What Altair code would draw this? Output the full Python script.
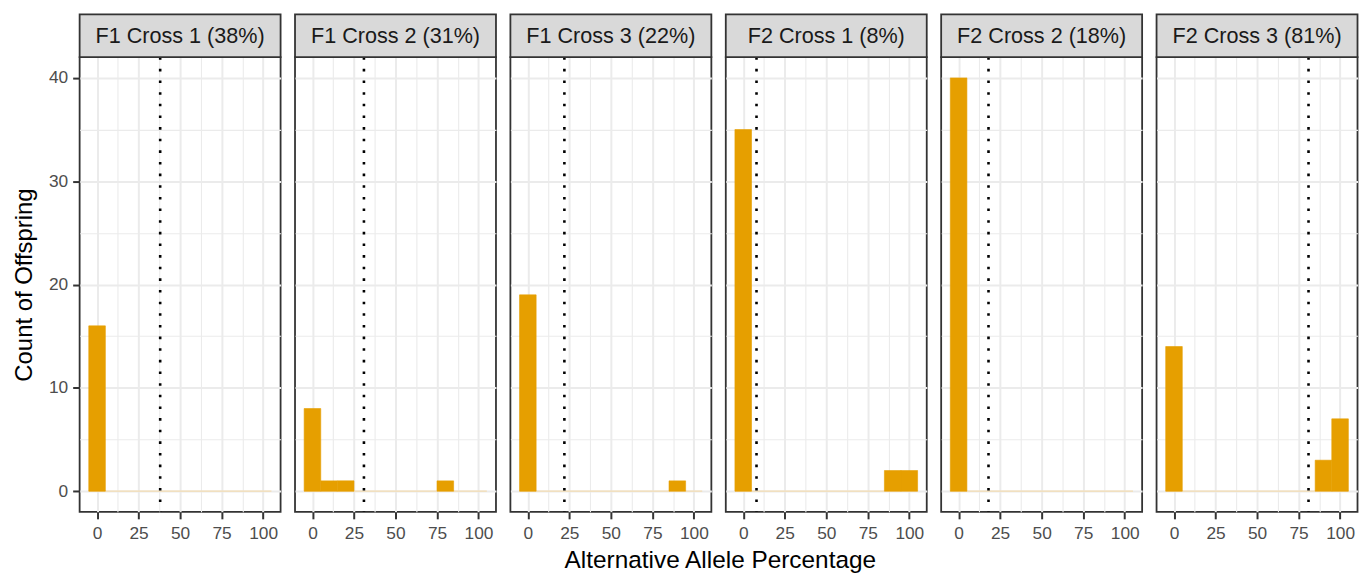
import altair as alt
import pandas as pd

# ---- data ----
panel_labels = ["F1 Cross 1 (38%)", "F1 Cross 2 (31%)", "F1 Cross 3 (22%)",
                "F2 Cross 1 (8%)", "F2 Cross 2 (18%)", "F2 Cross 3 (81%)"]
parent_pct = [38, 31, 22, 8, 18, 81]
bin_centers = [0, 10, 20, 30, 40, 50, 60, 70, 80, 90, 100]
counts_f1c1 = [16, 0, 0, 0, 0, 0, 0, 0, 0, 0, 0]
counts_f1c2 = [8, 1, 1, 0, 0, 0, 0, 0, 1, 0, 0]
counts_f1c3 = [19, 0, 0, 0, 0, 0, 0, 0, 0, 1, 0]
counts_f2c1 = [35, 0, 0, 0, 0, 0, 0, 0, 0, 2, 2]
counts_f2c2 = [40, 0, 0, 0, 0, 0, 0, 0, 0, 0, 0]
counts_f2c3 = [14, 0, 0, 0, 0, 0, 0, 0, 0, 3, 7]
all_counts = [counts_f1c1, counts_f1c2, counts_f1c3, counts_f2c1, counts_f2c2, counts_f2c3]
bin_width = 10
x_ticks_all = [0, 12.5, 25, 37.5, 50, 62.5, 75, 87.5, 100]
y_ticks_all = [0, 5, 10, 15, 20, 25, 30, 35, 40]

# ---- style ----
W, H = 202, 457
STRIP_H = 43
BAR = "#E69F00"
FONT = "Liberation Sans"

xscale = alt.Scale(domain=[-10.5, 110.5], nice=False, zero=False)
yscale = alt.Scale(domain=[-2, 42], nice=False, zero=False)


def x_axis(show_title):
    kw = dict(
        values=x_ticks_all, grid=True,
        labelExpr="datum.value % 25 == 0 ? format(datum.value, 'd') : ''",
        gridColor="#ebebeb",
        gridWidth={"condition": {"test": "datum.value % 25 != 0", "value": 1.1}, "value": 2},
        tickOpacity={"condition": {"test": "datum.value % 25 != 0", "value": 0}, "value": 1},
        tickColor="#333333", tickSize=7, tickWidth=2,
        labelFontSize=17.4, labelColor="#4d4d4d", labelFont=FONT, labelPadding=6,
        domain=False,
    )
    if show_title:
        kw.update(title="Alternative Allele Percentage", titleX=-6, titleFontSize=24.5,
                  titleFontWeight="normal", titleColor="#000000", titleFont=FONT,
                  titlePadding=7)
    else:
        kw.update(title=None)
    return alt.Axis(**kw)


def y_axis(show):
    kw = dict(
        values=y_ticks_all, grid=True,
        gridColor="#ebebeb",
        gridWidth={"condition": {"test": "datum.value % 10 != 0", "value": 1.1}, "value": 2},
        domain=False,
    )
    if show:
        kw.update(
            labelExpr="datum.value % 10 == 0 ? format(datum.value, 'd') : ''",
            tickOpacity={"condition": {"test": "datum.value % 10 != 0", "value": 0}, "value": 1},
            tickColor="#333333", tickSize=7, tickWidth=2,
            labelFontSize=17.4, labelColor="#4d4d4d", labelFont=FONT, labelPadding=5,
            title="Count of Offspring", titleFontSize=24, titleFontWeight="normal",
            titleColor="#000000", titleFont=FONT, titlePadding=12,
        )
    else:
        kw.update(labels=False, ticks=False, title=None)
    return alt.Axis(**kw)


panels = []
for i, (label, pct, counts) in enumerate(zip(panel_labels, parent_pct, all_counts)):
    xa = x_axis(i == 3)
    ya = y_axis(i == 0)
    bars_df = pd.DataFrame({"center": bin_centers, "count": counts})
    bars_df["start"] = bars_df["center"] - bin_width / 2
    bars_df["end"] = bars_df["center"] + bin_width / 2
    nonzero = bars_df[bars_df["count"] > 0]

    base_rule = alt.Chart(bars_df).mark_rule(
        color="#f3dcb2", strokeWidth=1.2
    ).encode(
        x=alt.X("min(start):Q", scale=xscale, axis=xa),
        x2="max(end):Q",
        y=alt.Y("min(count):Q", scale=yscale, axis=ya),
    )

    bars = alt.Chart(nonzero).mark_rect(color=BAR, stroke=BAR, strokeWidth=0.6).encode(
        x=alt.X("start:Q", scale=xscale, axis=xa),
        x2="end:Q",
        y=alt.Y("count:Q", scale=yscale, axis=ya),
        y2=alt.Y2(datum=0),
    )

    vline = alt.Chart(pd.DataFrame({"pct": [pct]})).mark_rule(
        color="#000000", strokeWidth=2.6, strokeDash=[2.6, 9.1], strokeCap="butt"
    ).encode(x=alt.X("pct:Q", scale=xscale, axis=xa))

    strip_df = pd.DataFrame({"label": [label]})
    strip_rect = alt.Chart(strip_df).mark_rect(
        fill="#d9d9d9", stroke="#333333", strokeWidth=1.8
    ).encode(
        x=alt.value(0), x2=alt.value(W), y=alt.value(-STRIP_H), y2=alt.value(0)
    )
    strip_text = alt.Chart(strip_df).mark_text(
        fontSize=21.7, font=FONT, color="#1a1a1a", baseline="middle", align="center"
    ).encode(
        x=alt.value(W / 2), y=alt.value(-STRIP_H / 2), text="label:N"
    )

    panel = alt.layer(base_rule, bars, vline, strip_rect, strip_text).properties(
        width=W, height=H
    )
    panels.append(panel)

chart = alt.hconcat(*panels, spacing=14.5, bounds="flush").properties(
    padding={"left": 3, "top": 3, "right": 0, "bottom": 0},
    background="white",
).configure_view(
    stroke="#333333", strokeWidth=1.8
)

chart.save("out.html", embed_options={"renderer": "svg", "actions": False})
